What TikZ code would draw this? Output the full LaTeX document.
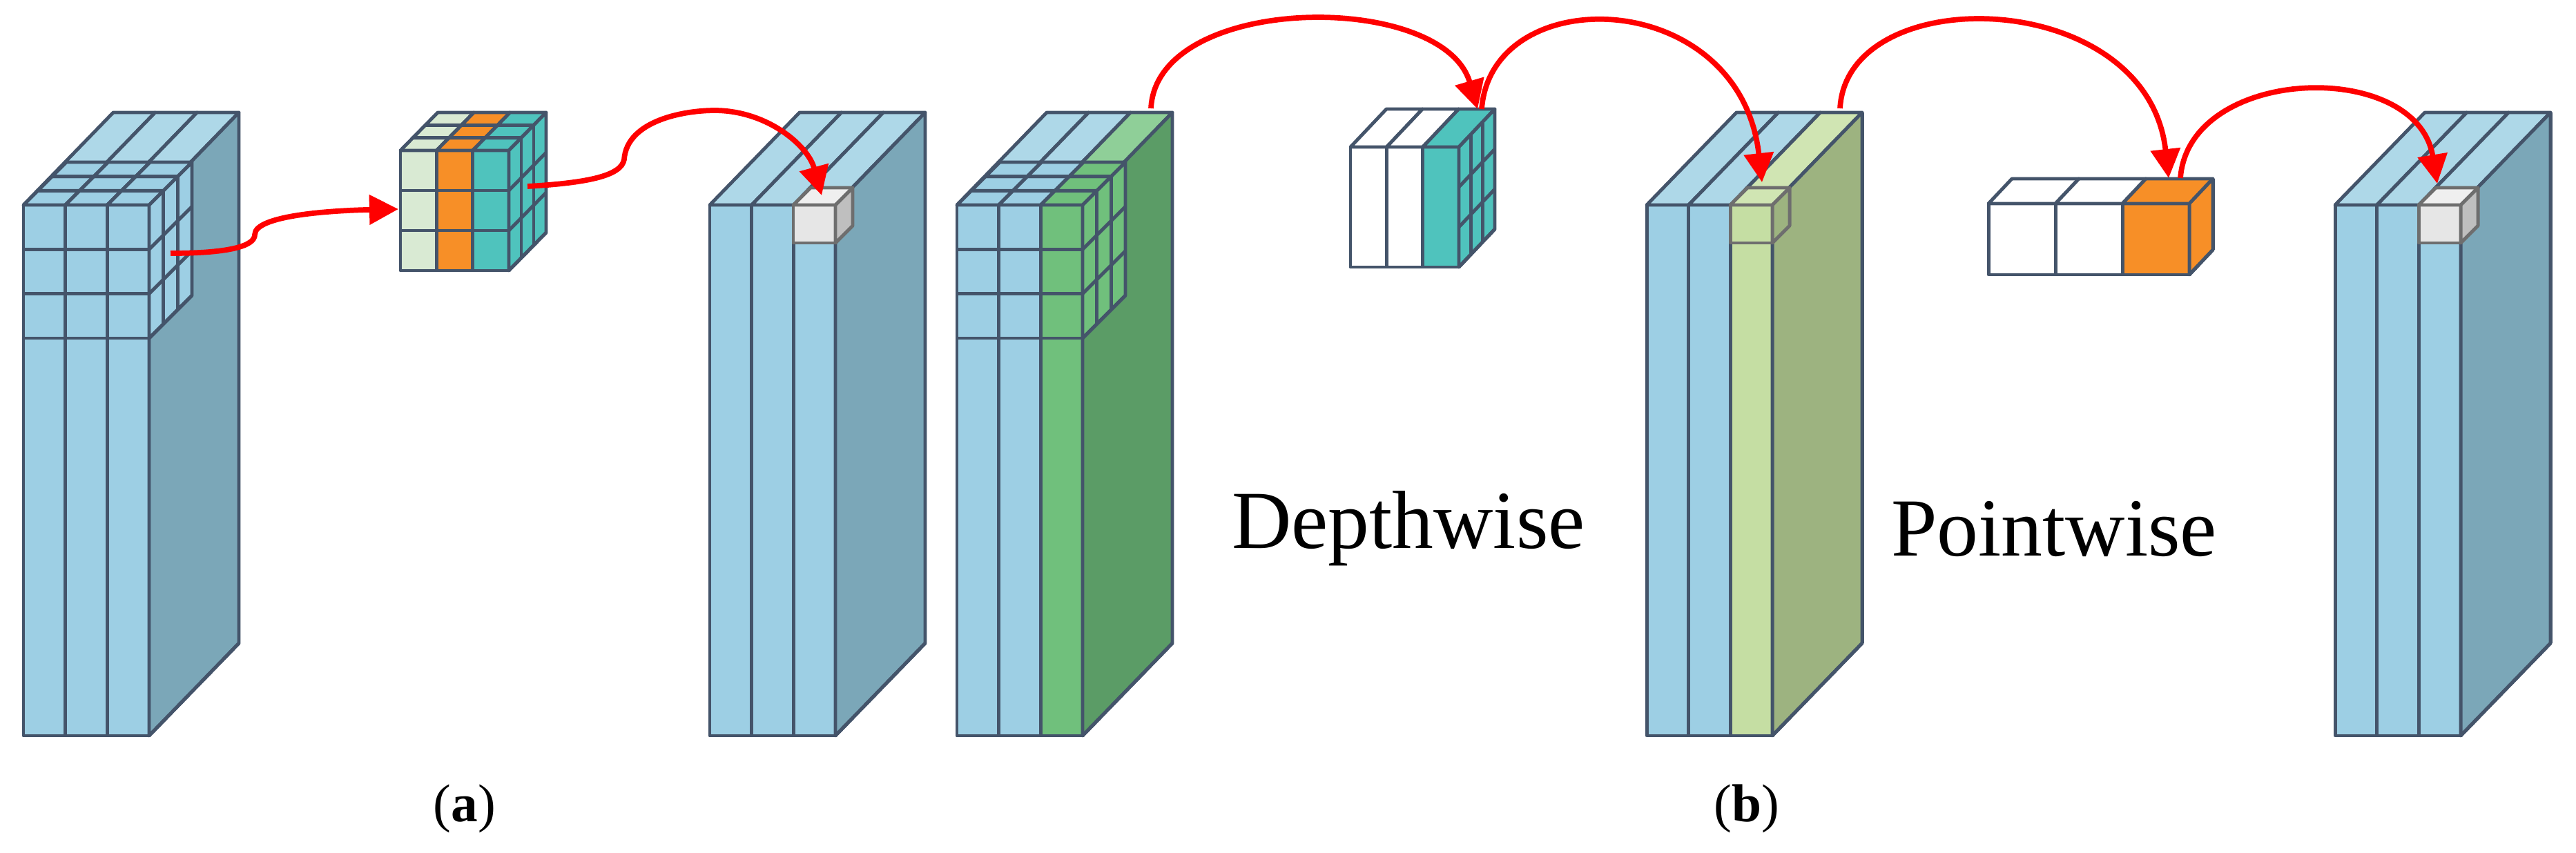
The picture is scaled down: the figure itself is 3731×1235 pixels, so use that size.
\documentclass[tikz,border=0pt]{standalone}
\usepackage{fontspec}
\setmainfont{Liberation Serif}
\usetikzlibrary{arrows.meta}
\definecolor{edge}{HTML}{44546A}
\definecolor{bfront}{HTML}{9DCFE4}
\definecolor{btop}{HTML}{AED8E8}
\definecolor{bside}{HTML}{7BA7B8}
\definecolor{gfront}{HTML}{70C07C}
\definecolor{gtop}{HTML}{8FCF98}
\definecolor{gside}{HTML}{5B9C66}
\definecolor{lgfront}{HTML}{C5DEA3}
\definecolor{lgtop}{HTML}{D0E5B3}
\definecolor{lgside}{HTML}{9DB380}
\definecolor{kg}{HTML}{D9EAD3}
\definecolor{ko}{HTML}{F78F27}
\definecolor{kt}{HTML}{4FC3BD}
\definecolor{grf}{HTML}{E6E6E6}
\definecolor{grt}{HTML}{EFEFEF}
\definecolor{grs}{HTML}{BFBFBF}
\definecolor{gred}{HTML}{6E6E6E}
\tikzset{
  ln/.style={draw=edge,line width=1.4pt,line join=round},
  gl/.style={draw=gred,line width=1.4pt,line join=round},
  arr/.style={draw=red,line width=2.2pt,-{Triangle[length=0.42cm,width=0.42cm]}},
  lbl/.style={font=\fontsize{22}{26}\selectfont,inner sep=0pt},
  big/.style={font=\fontsize{34}{40}\selectfont,inner sep=0pt}
}
% prism with 3 columns; settings via \ca\cb\cc (front) \ta\tb\tc (top) \cs (side) \fr \sr \td \sd
\newcommand\prism[6]{%
  \foreach \i/\cf/\ct in {0/\ca/\ta,1/\cb/\tb,2/\cc/\tc}{%
    \filldraw[ln,fill=\cf] ({#1+\i*#3/3},#2) rectangle ++({#3/3},#4);
    \foreach \k in {1,...,\td}{%
      \filldraw[ln,fill=\ct] ({#1+\i*#3/3+(\k-1)*(#5)/\td},{#2+(\k-1)*(#6)/\td}) -- ++({(#5)/\td},{(#6)/\td}) -- ++({#3/3},0) -- ++({-(#5)/\td},{-(#6)/\td}) -- cycle;}
  }
  \foreach \r in {1,...,\fr}{\draw[ln] (#1,{#2+\r*#4/\fr}) -- ++(#3,0);}
  \filldraw[ln,fill=\cs] ({#1+#3},#2) -- ++(#5,#6) -- ++(0,#4) -- ++({-(#5)},{-(#6)}) -- cycle;
  \foreach \k in {1,...,\sd}{\draw[ln] ({#1+#3+\k*(#5)/\sd},{#2+\k*(#6)/\sd}) -- ++(0,#4);}
  \foreach \r in {1,...,\sr}{\draw[ln] ({#1+#3},{#2+\r*#4/\sr}) -- ++(#5,#6);}
}
\newcommand\onebox[9]{%
  \filldraw[gl,fill=#7] (#1,#2) rectangle ++(#3,#4);
  \filldraw[gl,fill=#8] (#1,#2) -- ++(#5,#6) -- ++(#3,0) -- ++({-(#5)},{-(#6)}) -- cycle;
  \filldraw[gl,fill=#9] ({#1+#3},#2) -- ++(#5,#6) -- ++(0,#4) -- ++({-(#5)},{-(#6)}) -- cycle;
}
\newcommand\setcols[7]{\def\ca{#1}\def\cb{#2}\def\cc{#3}\def\ta{#4}\def\tb{#5}\def\tc{#6}\def\cs{#7}}
\newcommand\setdiv[4]{\def\fr{#1}\def\sr{#2}\def\td{#3}\def\sd{#4}}
\begin{document}
\begin{tikzpicture}[x=0.01cm,y=-0.01cm]
\useasboundingbox (0,0) rectangle (3731,1235);
% ---- block 1 with embedded cube
\setdiv{1}{1}{1}{1}
\setcols{bfront}{bfront}{bfront}{btop}{btop}{btop}{bside}
\prism{34}{297}{182}{769}{130}{-134}
\setdiv{3}{3}{3}{3}
\setcols{bfront}{bfront}{bfront}{bfront}{bfront}{bfront}{bfront}
\prism{34}{297}{182}{193}{62}{-62}
% ---- kernel (a)
\setcols{kg}{ko}{kt}{kg}{ko}{kt}{kt}
\prism{580}{218}{157}{174}{54}{-55}
% ---- block 2
\setdiv{1}{1}{1}{1}
\setcols{bfront}{bfront}{bfront}{btop}{btop}{btop}{bside}
\prism{1028}{297}{182}{769}{130}{-134}
\onebox{1149}{297}{61}{55}{25}{-25}{grf}{grt}{grs}
% ---- block 3 with embedded cube
\setcols{bfront}{bfront}{gfront}{btop}{btop}{gtop}{gside}
\prism{1386}{297}{182}{769}{130}{-134}
\setdiv{3}{3}{3}{3}
\setcols{bfront}{bfront}{gfront}{bfront}{bfront}{gfront}{gfront}
\prism{1386}{297}{182}{193}{62}{-62}
% ---- depthwise kernel
\setdiv{1}{3}{1}{3}
\setcols{white}{white}{kt}{white}{white}{kt}{kt}
\prism{1956}{213}{157}{174}{52}{-55}
% ---- block 4
\setdiv{1}{1}{1}{1}
\setcols{bfront}{bfront}{lgfront}{btop}{btop}{lgtop}{lgside}
\prism{2385}{297}{182}{769}{130}{-134}
\onebox{2506}{297}{61}{55}{25}{-25}{lgfront}{lgtop}{lgside}
% ---- pointwise kernel
\setcols{white}{white}{ko}{white}{white}{ko}{ko}
\prism{2880}{295}{291}{103}{34}{-36}
% ---- block 5
\setcols{bfront}{bfront}{bfront}{btop}{btop}{btop}{bside}
\prism{3382}{297}{182}{769}{130}{-134}
\onebox{3503}{297}{61}{55}{25}{-25}{grf}{grt}{grs}
% ---- arrow end points
\coordinate (a1s) at (247,367);
\coordinate (a1e) at (577,303);
\coordinate (a2s) at (764,270);
\coordinate (a2e) at (1190,283);
\coordinate (a3s) at (1667,157);
\coordinate (a3e) at (2140,158);
\coordinate (a4s) at (2146,158);
\coordinate (a4e) at (2552,264);
\coordinate (a5s) at (2665,157);
\coordinate (a5e) at (3141,258);
\coordinate (a6s) at (3158,258);
\coordinate (a6e) at (3530,266);
\draw[arr] (a1s) .. controls (330,367) and (369,357) .. (369,340) .. controls (369,312) and (480,305) .. (a1e);
\draw[arr] (a2s) .. controls (850,265) and (900,255) .. (904,231) .. controls (908,175) and (990,160) .. (1035,160) .. controls (1110,160) and (1170,210) .. (a2e);
\draw[arr] (a3s) .. controls (1675,-10) and (2090,-14) .. (a3e);
\draw[arr] (a4s) .. controls (2160,-30) and (2520,-20) .. (a4e);
\draw[arr] (a5s) .. controls (2675,-30) and (3110,-20) .. (a5e);
\draw[arr] (a6s) .. controls (3170,95) and (3500,84) .. (a6e);
% ---- labels
\node[big] (dw) at (2040,766) {Depthwise};
\node[big] (pw) at (2975,766) {Pointwise};
\node[lbl] (la) at (673,1172) {(\textbf{a})};
\node[lbl] (lb) at (2530,1172) {(\textbf{b})};
\end{tikzpicture}
\end{document}
